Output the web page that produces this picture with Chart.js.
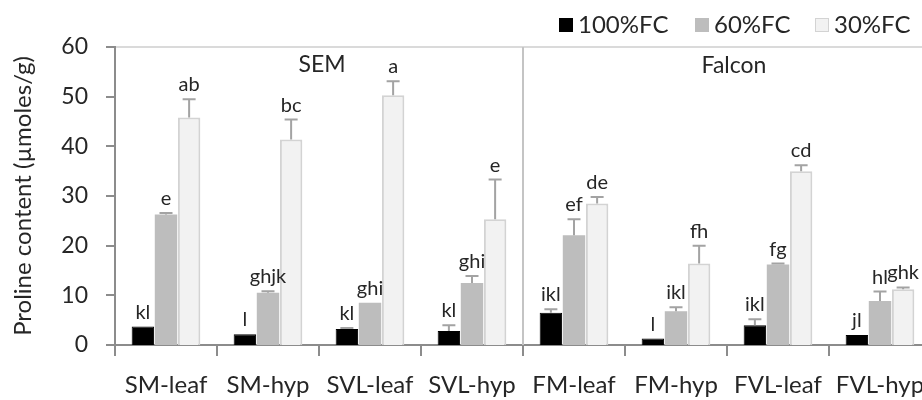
<!DOCTYPE html>
<html>
<head>
<meta charset="utf-8">
<script src="https://cdn.jsdelivr.net/npm/chart.js@4.4.1/dist/chart.umd.min.js"></script>
<style>
  html, body { margin: 0; padding: 0; background: #ffffff; }
  #wrap { width: 922px; height: 400px; overflow: hidden; position: relative; }
  canvas { display: block; }
</style>
</head>
<body>
<div id="wrap"><canvas id="c" width="960" height="400"></canvas></div>
<script>
// Proline content per tissue and watering level
const categories = ['SM-leaf', 'SM-hyp', 'SVL-leaf', 'SVL-hyp', 'FM-leaf', 'FM-hyp', 'FVL-leaf', 'FVL-hyp'];
const seriesNames = ['100%FC', '60%FC', '30%FC'];

const fc100 = [3.7, 2.15, 3.2, 2.8, 6.5, 1.3, 4.0, 2.0];
const fc60  = [26.3, 10.5, 8.5, 12.5, 22.1, 6.8, 16.2, 8.85];
const fc30  = [45.8, 41.4, 50.3, 25.3, 28.5, 16.4, 35.0, 11.2];

const err100 = [0, 0, 0.2, 1.2, 0.7, 0, 1.2, 0];
const err60  = [0.3, 0.3, 0, 1.4, 3.2, 0.8, 0.2, 1.9];
const err30  = [3.7, 4.0, 2.8, 8.0, 1.3, 3.6, 1.2, 0.4];

const letters100 = ['kl', 'l', 'kl', 'kl', 'ikl', 'l', 'ikl', 'jl'];
const letters60  = ['e', 'ghjk', 'ghi', 'ghi', 'ef', 'ikl', 'fg', 'hl'];
const letters30  = ['ab', 'bc', 'a', 'e', 'de', 'fh', 'cd', 'ghk'];

const yTicks = [0, 10, 20, 30, 40, 50, 60];
const groupNames = ['SEM', 'Falcon'];
const yTitle = 'Proline content (\u00b5moles/g)';

const FONT = 'Lato';
const TEXT = '#262626';
const AXIS = '#8c8c8c';

// Upward error bars plus significance letters above each bar
const errLetters = {
  id: 'errLetters',
  afterDatasetsDraw(chart) {
    const ctx = chart.ctx, ys = chart.scales.y;
    chart.data.datasets.forEach((ds, i) => {
      const meta = chart.getDatasetMeta(i);
      meta.data.forEach((bar, j) => {
        const v = ds.data[j], e = ds.errors[j];
        const yTop = ys.getPixelForValue(v + e);
        ctx.save();
        if (e > 0) {
          ctx.strokeStyle = '#a3a3a3';
          ctx.lineWidth = 2;
          ctx.beginPath();
          ctx.moveTo(bar.x, bar.y);
          ctx.lineTo(bar.x, yTop);
          ctx.moveTo(bar.x - 6.5, yTop);
          ctx.lineTo(bar.x + 6.5, yTop);
          ctx.stroke();
        }
        ctx.fillStyle = TEXT;
        ctx.font = '20px ' + FONT;
        ctx.textAlign = 'center';
        ctx.textBaseline = 'alphabetic';
        ctx.fillText(ds.letters[j], bar.x, yTop - 8);
        ctx.restore();
      });
    });
  }
};

// Divider between the two cultivars and their names
const groupsPlugin = {
  id: 'groups',
  beforeDatasetsDraw(chart) {
    const ctx = chart.ctx, xs = chart.scales.x, a = chart.chartArea;
    const xDiv = (xs.getPixelForValue(3) + xs.getPixelForValue(4)) / 2;
    ctx.save();
    ctx.strokeStyle = '#c4c4c4';
    ctx.lineWidth = 2;
    ctx.beginPath();
    ctx.moveTo(xDiv, a.top);
    ctx.lineTo(xDiv, a.bottom);
    ctx.stroke();
    ctx.restore();
  },
  afterDraw(chart) {
    const ctx = chart.ctx, xs = chart.scales.x, a = chart.chartArea;
    const c1 = (xs.getPixelForValue(1) + xs.getPixelForValue(2)) / 2 + 3;
    const c2 = (xs.getPixelForValue(5) + xs.getPixelForValue(6)) / 2 + 7;
    ctx.save();
    ctx.fillStyle = TEXT;
    ctx.font = '23px ' + FONT;
    ctx.textAlign = 'center';
    ctx.textBaseline = 'alphabetic';
    ctx.fillText(groupNames[0], c1, a.top + 25);
    ctx.fillText(groupNames[1], c2, a.top + 26);
    ctx.restore();
  }
};

// Legend row at the top right
const legendPlugin = {
  id: 'topLegend',
  afterDraw(chart) {
    const ctx = chart.ctx;
    const starts = [559, 695, 815];
    ctx.save();
    ctx.font = '24px ' + FONT;
    ctx.textBaseline = 'alphabetic';
    ctx.textAlign = 'left';
    chart.data.datasets.forEach((ds, i) => {
      const x = starts[i];
      ctx.fillStyle = ds.backgroundColor;
      ctx.fillRect(x, 18, 14, 14);
      if (ds.borderWidth > 0) {
        ctx.strokeStyle = ds.borderColor;
        ctx.lineWidth = 1;
        ctx.strokeRect(x + 0.5, 18.5, 13, 13);
      }
      ctx.fillStyle = TEXT;
      ctx.fillText(ds.label, x + 19, 33);
    });
    ctx.restore();
  }
};

function build() {
  new Chart(document.getElementById('c'), {
    type: 'bar',
    data: {
      labels: categories,
      datasets: [
        { label: seriesNames[0], data: fc100, errors: err100, letters: letters100,
          backgroundColor: '#000000', borderColor: '#000000', borderWidth: 1 },
        { label: seriesNames[1], data: fc60, errors: err60, letters: letters60,
          backgroundColor: '#bdbdbd', borderColor: '#bdbdbd', borderWidth: 0 },
        { label: seriesNames[2], data: fc30, errors: err30, letters: letters30,
          backgroundColor: '#f2f2f2', borderColor: '#d3d3d3', borderWidth: 2 }
      ]
    },
    options: {
      responsive: false,
      animation: false,
      devicePixelRatio: 1,
      events: [],
      categoryPercentage: 0.68,
      barPercentage: 0.97,
      layout: { padding: { top: 47, right: 29, left: 0, bottom: 0 } },
      plugins: { legend: { display: false }, tooltip: { enabled: false } },
      scales: {
        x: {
          grid: { display: true, offset: true, drawOnChartArea: false, drawTicks: true,
                  tickLength: 11, color: AXIS, lineWidth: 2 },
          border: { display: true, color: AXIS, width: 2 },
          ticks: { color: TEXT, font: { family: FONT, size: 24 }, padding: 15,
                   autoSkip: false, maxRotation: 0, minRotation: 0 },
          afterFit(scale) { scale.height = 55; }
        },
        y: {
          min: 0, max: 60,
          afterBuildTicks(scale) { scale.ticks = yTicks.map(v => ({ value: v })); },
          grid: {
            drawTicks: true, tickLength: 9, tickColor: AXIS, tickWidth: 2,
            color: ctx => (ctx.tick && ctx.tick.value === 60 ? '#dadada' : 'rgba(0,0,0,0)'),
            lineWidth: ctx => (ctx.tick && ctx.tick.value === 60 ? 2 : 0)
          },
          border: { display: true, color: AXIS, width: 2 },
          ticks: { color: TEXT, font: { family: FONT, size: 23 }, padding: 18 },
          title: { display: true, text: yTitle, color: TEXT,
                   font: { family: FONT, size: 24 }, padding: { top: 9, bottom: 0 } },
          afterFit(scale) { scale.width = 115; }
        }
      }
    },
    plugins: [groupsPlugin, errLetters, legendPlugin]
  });
}

if (document.fonts && document.fonts.load) {
  Promise.all([document.fonts.load('24px Lato'), document.fonts.load('20px Lato')])
    .then(build, build);
} else {
  build();
}
</script>
</body>
</html>
